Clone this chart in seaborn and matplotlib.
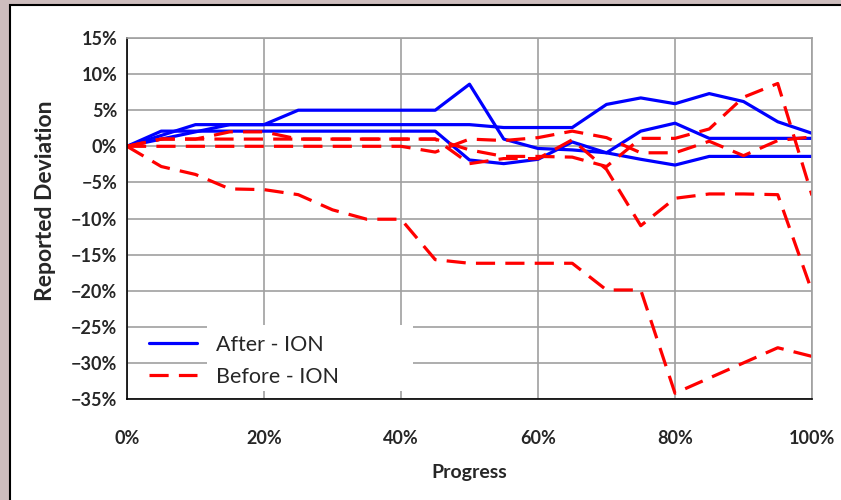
"""
Reported deviation vs progress, before and after ION
"""

import pandas as pd
import matplotlib.pyplot as plt
import seaborn as sns
from matplotlib.ticker import PercentFormatter, MultipleLocator
from matplotlib.lines import Line2D
from matplotlib.patches import Rectangle

sns.set_style("white")
plt.rcParams['font.family'] = ['Lato', 'DejaVu Sans']

# Data (percent values)
progress = [0, 5, 10, 15, 20, 25, 30, 35, 40, 45, 50,
            55, 60, 65, 70, 75, 80, 85, 90, 95, 100]

after_1 = [0, 2.1, 2.1, 2.1, 2.1, 2.1, 2.1, 2.1, 2.1, 2.1, -1.9,
           -2.4, -1.8, 0.6, -0.9, -1.8, -2.6, -1.4, -1.4, -1.4, -1.4]
after_2 = [0, 1.5, 3.0, 3.0, 3.0, 3.0, 3.0, 3.0, 3.0, 3.0, 3.0,
           2.6, 2.6, 2.6, 5.8, 6.7, 5.9, 7.3, 6.2, 3.4, 1.8]
after_3 = [0, 1.0, 2.0, 3.0, 3.0, 5.0, 5.0, 5.0, 5.0, 5.0, 8.6,
           1.0, -0.3, -0.5, -0.9, 2.1, 3.2, 1.1, 1.1, 1.1, 1.1]

before_1 = [0, -2.8, -3.9, -5.9, -6.0, -6.7, -8.8, -10.1, -10.1, -15.7, -16.2,
            -16.2, -16.2, -16.2, -19.9, -19.9, -34.2, -32.1, -30.0, -27.9, -29.1]
before_2 = [0, 1.0, 1.0, 2.0, 2.0, 1.0, 1.0, 1.0, 1.0, 1.0, -2.4,
            -1.7, -1.7, 0.9, -3.2, -11.0, -7.2, -6.6, -6.6, -6.7, -20.1]
before_3 = [0, 0, 0, 0, 0, 0, 0, 0, 0, -0.8, 1.0,
            0.8, 1.2, 2.1, 1.2, -0.9, -0.9, 0.7, -1.3, 0.8, 1.3]
before_4 = [0, 1.0, 1.0, 1.0, 1.0, 1.0, 1.0, 1.0, 1.0, 1.0, -0.5,
            -1.4, -1.4, -1.5, -2.8, 1.1, 1.1, 2.4, 6.8, 8.7, -6.8]

series = {
    ('After - ION', 'a1'): after_1,
    ('After - ION', 'a2'): after_2,
    ('After - ION', 'a3'): after_3,
    ('Before - ION', 'b1'): before_1,
    ('Before - ION', 'b2'): before_2,
    ('Before - ION', 'b3'): before_3,
    ('Before - ION', 'b4'): before_4,
}

rows = []
for (group, run), vals in series.items():
    for p, v in zip(progress, vals):
        rows.append({'group': group, 'run': run, 'progress': p, 'deviation': v})
df = pd.DataFrame(rows)

colors = {'After - ION': '#0000ff', 'Before - ION': '#ff0000'}
dash_styles = {'After - ION': '', 'Before - ION': (6, 3.2)}

fig = plt.figure(figsize=(8.41, 5.0), dpi=100, facecolor='#cdbdbe')
# white panel with black border, like the slide frame
fig.patches.append(Rectangle((10 / 841, -0.05), 1.1, 1.05 - 5 / 500,
                             transform=fig.transFigure, facecolor='white',
                             edgecolor='black', linewidth=1.5, zorder=-10))
ax = fig.add_axes([127 / 841, 101 / 500, 685 / 841, 361 / 500])
ax.set_zorder(1)

sns.lineplot(data=df, x='progress', y='deviation', hue='group', style='group',
             units='run', estimator=None, palette=colors, dashes=dash_styles,
             linewidth=2.3, legend=False, ax=ax)

ax.set_xlim(0, 100)
ax.set_ylim(-35, 15)
ax.xaxis.set_major_locator(MultipleLocator(20))
ax.yaxis.set_major_locator(MultipleLocator(5))
ax.xaxis.set_major_formatter(PercentFormatter(100, decimals=0))
ax.yaxis.set_major_formatter(PercentFormatter(100, decimals=0))

ax.set_axisbelow(True)
ax.grid(True, color='#a0a0a0', linewidth=1.2)
for side in ['top', 'right']:
    ax.spines[side].set_color('#a0a0a0')
    ax.spines[side].set_linewidth(1.2)
for side in ['left', 'bottom']:
    ax.spines[side].set_color('black')
    ax.spines[side].set_linewidth(1.2)

ax.tick_params(axis='both', direction='out', length=5, width=1, color='black',
               labelsize=13)
ax.tick_params(axis='y', pad=2)
ax.tick_params(axis='x', pad=17)
for lbl in ax.get_xticklabels() + ax.get_yticklabels():
    lbl.set_fontweight('bold')

ax.set_xlabel('Progress', fontsize=14, fontweight='bold')
ax.xaxis.set_label_coords(0.5, -0.181)
ax.set_ylabel('Reported Deviation', fontsize=16.5, fontweight='bold')
ax.yaxis.set_label_coords(-0.104, 0.55)

# legend: white box behind the text only
ax.add_patch(Rectangle((207, 109), 206, 66, transform=None, facecolor='white',
                       edgecolor='none', zorder=1))
handles = [Line2D([], [], color=colors['After - ION'], lw=2.3),
           Line2D([], [], color=colors['Before - ION'], lw=2.3, dashes=(6, 3.2))]
ax.legend(handles, ['After - ION', 'Before - ION'], loc='lower left',
          bbox_to_anchor=(0.0146, 0.0), frameon=False, fontsize=15.5,
          handlelength=2.2, handletextpad=0.9, labelspacing=0.55,
          borderaxespad=0.18)

fig.savefig('out.png', dpi=100, facecolor=fig.get_facecolor())
